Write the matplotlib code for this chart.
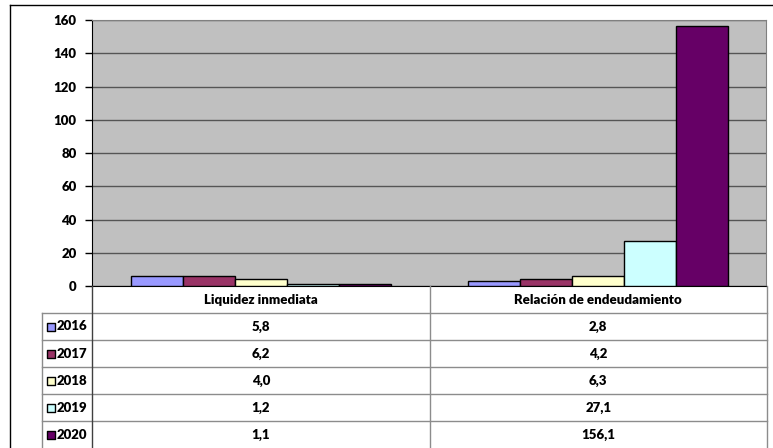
import numpy as np
import matplotlib.pyplot as plt
from matplotlib.lines import Line2D

# ---- data ----
categories = ["Liquidez inmediata", "Relación de endeudamiento"]
years = ["2016", "2017", "2018", "2019", "2020"]
v2016 = [5.8, 2.8]
v2017 = [6.2, 4.2]
v2018 = [4.0, 6.3]
v2019 = [1.2, 27.1]
v2020 = [1.1, 156.1]
series = [v2016, v2017, v2018, v2019, v2020]
colors = ["#9999FF", "#993366", "#FFFFCC", "#CCFFFF", "#660066"]
yticks = np.arange(0, 161, 20)

plt.rcParams['font.family'] = ['Lato', 'DejaVu Sans']
FS = 9.5
FW = "heavy"

W, H = 773, 448
def fx(px):
    return px / W
def fy(py):
    return 1 - py / H

fig = plt.figure(figsize=(W / 100, H / 100), dpi=100)

# outer frame (left and top edges visible)
fig.add_artist(Line2D([fx(10), fx(10)], [fy(5), 0], color="black", lw=1))
fig.add_artist(Line2D([fx(10), 1], [fy(5), fy(5)], color="black", lw=1))

# ---- bar chart ----
ax = fig.add_axes([fx(92), fy(286), fx(766) - fx(92), fy(20) - fy(286)])
ax.set_facecolor("#C0C0C0")
x = np.arange(len(categories))
unit_px = 337.0
bw = 52 / unit_px
for i, (vals, col) in enumerate(zip(series, colors)):
    ax.bar(x + (i - 2) * bw, vals, bw, color=col, edgecolor="black", lw=1, zorder=3)

ax.set_xlim(-0.5, 1.5)
ax.set_ylim(0, 160)
ax.set_yticks(yticks)
ax.set_yticklabels([str(t) for t in yticks], fontsize=FS, fontweight=FW)
ax.set_xticks([])
ax.tick_params(axis="y", direction="out", length=5, width=1, pad=6)
ax.grid(axis="y", color="#555555", lw=1, zorder=1)
ax.set_axisbelow(True)
ax.spines["left"].set_color("black")
ax.spines["bottom"].set_color("black")
ax.spines["top"].set_color("#808080")
ax.spines["right"].set_color("#808080")

# ---- data table below ----
leg_w = 50 / unit_px
tax = fig.add_axes([fx(42), 0, fx(767) - fx(42), fy(286)])
tax.set_xlim(-0.5 - leg_w, 1.5)
tax.set_ylim(6, 0)
tax.axis("off")
xl = -0.5 - leg_w
grid_c = "#8c8c8c"
for r in range(1, 6):
    tax.plot([xl, 1.5], [r, r], color=grid_c, lw=1, clip_on=False)
tax.plot([xl, xl], [1, 6], color=grid_c, lw=1, clip_on=False)
tax.plot([-0.5, -0.5], [0, 6], color="#404040", lw=1, clip_on=False)
tax.plot([0.5, 0.5], [0, 6], color=grid_c, lw=1, clip_on=False)
tax.plot([1.5, 1.5], [0, 6], color=grid_c, lw=1, clip_on=False)

for j, cat in enumerate(categories):
    tax.text(j, 0.5, cat, ha="center", va="center", fontsize=FS, fontweight=FW)

for i, (yr, vals, col) in enumerate(zip(years, series, colors)):
    row = i + 1.5
    tax.scatter([xl + 9 / unit_px], [row], marker="s", s=40, color=col,
                edgecolor="black", linewidths=1, clip_on=False)
    tax.text(xl + 15 / unit_px, row, yr, ha="left", va="center",
             fontsize=FS, fontweight=FW)
    for j, v in enumerate(vals):
        tax.text(j, row, f"{v:.1f}".replace(".", ","), ha="center", va="center",
                 fontsize=FS, fontweight=FW)

plt.savefig("out.png", dpi=100)
